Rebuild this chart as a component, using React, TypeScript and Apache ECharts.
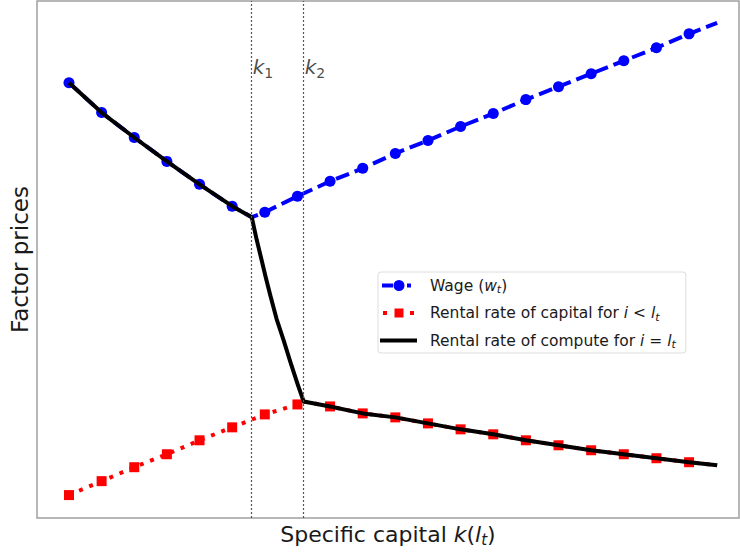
import React, { useEffect, useRef } from "react";
import * as echarts from "echarts";

// Marker positions along the specific-capital axis (index units)
const markerK = [0, 1, 2, 3, 4, 5, 6, 7, 8, 9, 10, 11, 12, 13, 14, 15, 16, 17, 18, 19];
const K1 = 5.6;
const K2 = 7.19;
const K_END = 19.86;

// Wage (w_t)
const wageLeft = [43.7, 40.7, 38.2, 35.8, 33.5, 31.3]; // k = 0..5
const wageAtK1 = 30.2;
const wageRight = [30.7, 32.3, 33.8, 35.1, 36.6, 37.9, 39.3, 40.6, 42.0, 43.3, 44.6, 45.9, 47.2, 48.6]; // k = 6..19
const wageEnd = 49.7;

// Rental rate of capital for i < l_t
const rentalLeft = [2.3, 3.7, 5.1, 6.4, 7.8, 9.1, 10.4, 11.4]; // k = 0..7
const rentalAtK2 = 11.7;
const rentalRight = [11.2, 10.5, 10.1, 9.5, 8.9, 8.4, 7.8, 7.3, 6.8, 6.4, 6.0, 5.6]; // k = 8..19
const rentalEnd = 5.3;

// Rental rate of compute between k1 and k2
const computeCurveK = [5.66, 5.75, 5.88, 6.03, 6.18, 6.36, 6.58, 6.79, 7.01];
const computeCurveY = [29.3, 27.95, 26.2, 24.15, 22.2, 20.0, 17.8, 15.6, 13.4];

const kLabels = ["1", "2"];
const kLabelY = 45.3;

const seriesNames = [
  "Wage (w_t)",
  "Rental rate of capital for i < l_t",
  "Rental rate of compute for i = l_t",
];
const legendRich = [
  "Wage ({it|w}{sub|t})",
  "Rental rate of capital for {it|i} < {it|l}{sub|t}",
  "Rental rate of compute for {it|i} = {it|l}{sub|t}",
];
const legendIcons = [
  "path://M0,0 M37,12 M2,4 L13,4 L13,8 L2,8 Z M13.5,6 A5.5,5.5 0 1 0 24.5,6 A5.5,5.5 0 1 0 13.5,6 Z M27,4 L31,4 L31,8 L27,8 Z",
  "path://M0,0 M37,12 M3,4 L7,4 L7,8 L3,8 Z M14.5,1.5 L23.5,1.5 L23.5,10.5 L14.5,10.5 Z M30,4 L34,4 L34,8 L30,8 Z",
  "path://M0,0 M37,12 M0,4 L37,4 L37,8 L0,8 Z",
];

const FONT = "DejaVu Sans";
const TXT = "#1a1a1a";

export default function App() {
  const ref = useRef<HTMLDivElement>(null);

  useEffect(() => {
    if (!ref.current) return;
    const chart = echarts.init(ref.current, null, { renderer: "svg" });

    const none = (k: number, v: number) => ({ value: [k, v], symbol: "none" });

    const wageData: any[] = [
      ...wageLeft.map((v, i) => [markerK[i], v]),
      none(K1, wageAtK1),
      ...wageRight.map((v, j) => [markerK[wageLeft.length + j], v]),
      none(K_END, wageEnd),
    ];
    const rentalData: any[] = [
      ...rentalLeft.map((v, i) => [markerK[i], v]),
      none(K2, rentalAtK2),
      ...rentalRight.map((v, j) => [markerK[rentalLeft.length + j], v]),
      none(K_END, rentalEnd),
    ];
    const computeData: any[] = [
      ...wageLeft.map((v, i) => [markerK[i], v]),
      [K1, wageAtK1],
      ...computeCurveK.map((k, i) => [k, computeCurveY[i]]),
      [K2, rentalAtK2],
      ...rentalRight.map((v, j) => [markerK[rentalLeft.length + j], v]),
      [K_END, rentalEnd],
    ];

    const option: any = {
      animation: false,
      backgroundColor: "#ffffff",
      grid: {
        left: 36,
        top: 1,
        right: 1,
        bottom: 32,
        show: true,
        borderColor: "#a0a0a0",
        borderWidth: 1.5,
      },
      xAxis: {
        type: "value",
        min: -0.98,
        max: 20.53,
        axisLine: { show: false },
        axisTick: { show: false },
        axisLabel: { show: false },
        splitLine: { show: false },
        name: "Specific capital {it|k}({it|l}{sub|t})",
        nameLocation: "middle",
        nameGap: 3,
        nameTextStyle: {
          fontFamily: FONT,
          fontSize: 22,
          color: TXT,
          lineHeight: 26,
          verticalAlign: "top",
          rich: {
            it: { fontFamily: FONT, fontSize: 22, fontStyle: "italic", color: TXT, lineHeight: 26 },
            sub: { fontFamily: FONT, fontSize: 15, fontStyle: "italic", color: TXT, lineHeight: 15, verticalAlign: "bottom" },
          },
        },
      },
      yAxis: {
        type: "value",
        min: 0,
        max: 51.9,
        axisLine: { show: false },
        axisTick: { show: false },
        axisLabel: { show: false },
        splitLine: { show: false },
        name: "Factor prices",
        nameLocation: "middle",
        nameGap: 6,
        nameTextStyle: { fontFamily: FONT, fontSize: 23, color: TXT },
      },
      legend: {
        data: seriesNames.map((n, i) => ({ name: n, icon: legendIcons[i] })),
        orient: "vertical",
        left: 378,
        top: 272,
        padding: [4, 10, 3, 2],
        itemWidth: 37,
        itemHeight: 14,
        itemGap: 8.5,
        symbolKeepAspect: true,
        backgroundColor: "rgba(255,255,255,0.85)",
        borderColor: "#dddddd",
        borderWidth: 1,
        borderRadius: 3,
        formatter: (name: string) => legendRich[seriesNames.indexOf(name)],
        textStyle: {
          fontFamily: FONT,
          fontSize: 15.5,
          color: TXT,
          lineHeight: 19,
          padding: [0, 0, 0, 8],
          rich: {
            it: { fontFamily: FONT, fontSize: 15.5, fontStyle: "italic", color: TXT, lineHeight: 19 },
            sub: { fontFamily: FONT, fontSize: 11, fontStyle: "italic", color: TXT, lineHeight: 11, verticalAlign: "bottom" },
          },
        },
      },
      series: [
        {
          name: seriesNames[0],
          type: "line",
          data: wageData,
          symbol: "circle",
          symbolSize: 11,
          showSymbol: true,
          itemStyle: { color: "#0000ff" },
          lineStyle: { color: "#0000ff", width: 4, type: [14, 6] },
          z: 2,
        },
        {
          name: seriesNames[1],
          type: "line",
          data: rentalData,
          symbol: "rect",
          symbolSize: 10,
          showSymbol: true,
          itemStyle: { color: "#ff0000" },
          lineStyle: { color: "#ff0000", width: 4, type: [4, 7] },
          z: 3,
        },
        {
          name: seriesNames[2],
          type: "line",
          data: computeData,
          symbol: "none",
          showSymbol: false,
          itemStyle: { color: "#000000" },
          lineStyle: { color: "#000000", width: 4, type: "solid", join: "round" },
          z: 4,
          markLine: {
            silent: true,
            symbol: "none",
            label: { show: false },
            lineStyle: { color: "#555555", width: 1.2, type: [2, 2] },
            data: [{ xAxis: K1 }, { xAxis: K2 }],
          },
        },
        {
          name: "kLabels",
          type: "scatter",
          symbolSize: 0,
          data: [
            [K1, kLabelY],
            [K2, kLabelY],
          ],
          label: {
            show: true,
            position: "right",
            distance: 1,
            formatter: (p: any) => `{it|k}{sub|${kLabels[p.dataIndex]}}`,
            rich: {
              it: { fontFamily: FONT, fontSize: 20, fontStyle: "italic", color: TXT, lineHeight: 26 },
              sub: { fontFamily: FONT, fontSize: 14, color: TXT, lineHeight: 14, verticalAlign: "bottom" },
            },
          },
          z: 5,
        },
      ],
    };

    chart.setOption(option);
    return () => chart.dispose();
  }, []);

  return (
    <div
      ref={ref}
      style={{ position: "fixed", left: 0, top: 0, width: 740, height: 552, background: "#ffffff" }}
    />
  );
}
